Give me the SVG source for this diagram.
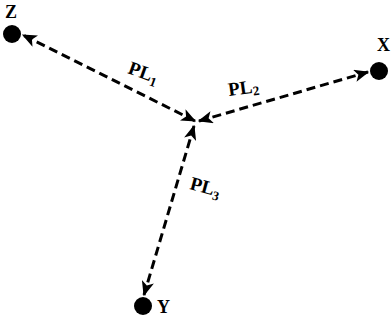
<svg xmlns="http://www.w3.org/2000/svg" width="391" height="324" viewBox="0 0 391 324">
<style>
.node{fill:#000}
.lbl{font-family:"Liberation Serif",serif;font-weight:bold;font-size:18px;fill:#000}
.pl{font-family:"Liberation Serif",serif;font-weight:bold;font-size:19px;fill:#000}
.sub{font-size:13px}
.edge{stroke:#000;stroke-width:3;stroke-dasharray:9 5;fill:none;marker-start:url(#ah);marker-end:url(#ah)}
</style>
<defs>
<marker id="ah" viewBox="0 0 12 10" refX="11" refY="5" markerWidth="5" markerHeight="4.2" markerUnits="strokeWidth" orient="auto-start-reverse">
<path d="M0,0 L12,5 L0,10 L3,5 Z" fill="#000"/>
</marker>
</defs>
<g id="connectors">
<line class="edge" x1="195" y1="121" x2="23" y2="35"/>
<line class="edge" x1="199" y1="121" x2="368" y2="72"/>
<line class="edge" x1="194" y1="126" x2="144" y2="295"/>
</g>
<g id="Z"><circle class="node" cx="12" cy="34" r="9"/><text class="lbl" x="5" y="18">Z</text></g>
<g id="X"><circle class="node" cx="379" cy="71" r="9"/><text class="lbl" x="377" y="51">X</text></g>
<g id="Y"><circle class="node" cx="143" cy="306" r="9"/><text class="lbl" x="157" y="313">Y</text></g>
<g id="PL1" transform="translate(127,73) rotate(20)"><text class="pl" x="0" y="0">PL<tspan class="sub" dy="4">1</tspan></text></g>
<g id="PL2" transform="translate(229,96) rotate(-8)"><text class="pl" x="0" y="0">PL<tspan class="sub" dy="3">2</tspan></text></g>
<g id="PL3" transform="translate(189,189) rotate(15)"><text class="pl" x="0" y="0">PL<tspan class="sub" dy="4">3</tspan></text></g>
</svg>
